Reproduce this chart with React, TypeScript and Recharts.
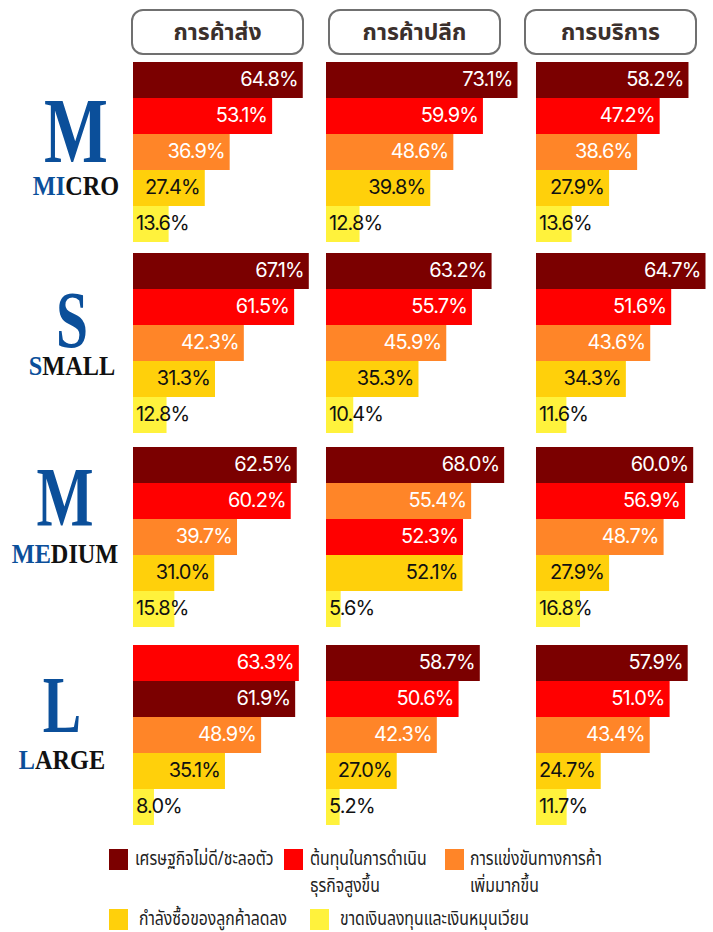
import { BarChart, Bar, XAxis, YAxis, Cell } from 'recharts'

// หมวดปัญหา (เรียงตามสี)
const CATEGORIES = [
  'เศรษฐกิจไม่ดี/ชะลอตัว',
  'ต้นทุนในการดำเนินธุรกิจสูงขึ้น',
  'การแข่งขันทางการค้าเพิ่มมากขึ้น',
  'กำลังซื้อของลูกค้าลดลง',
  'ขาดเงินลงทุนและเงินหมุนเวียน',
]
const COLORS = ['#7b0000', '#ff0000', '#ff8528', '#ffd00b', '#fff23c']
const LABEL_COLORS = ['#ffffff', '#ffffff', '#ffffff', '#111111', '#111111']

const SECTORS = ['การค้าส่ง', 'การค้าปลีก', 'การบริการ']

// ค่าตามลำดับ CATEGORIES: [ส่ง, ปลีก, บริการ]
const microValues = [
  [64.8, 53.1, 36.9, 27.4, 13.6],
  [73.1, 59.9, 48.6, 39.8, 12.8],
  [58.2, 47.2, 38.6, 27.9, 13.6],
]
const smallValues = [
  [67.1, 61.5, 42.3, 31.3, 12.8],
  [63.2, 55.7, 45.9, 35.3, 10.4],
  [64.7, 51.6, 43.6, 34.3, 11.6],
]
const mediumValues = [
  [62.5, 60.2, 39.7, 31.0, 15.8],
  [68.0, 52.3, 55.4, 52.1, 5.6],
  [60.0, 56.9, 48.7, 27.9, 16.8],
]
const largeValues = [
  [61.9, 63.3, 48.9, 35.1, 8.0],
  [58.7, 50.6, 42.3, 27.0, 5.2],
  [57.9, 51.0, 43.4, 24.7, 11.7],
]

const SIZES = [
  { name: 'MICRO', blue: 'MI', big: 'M', values: microValues },
  { name: 'SMALL', blue: 'S', big: 'S', values: smallValues },
  { name: 'MEDIUM', blue: 'ME', big: 'M', values: mediumValues },
  { name: 'LARGE', blue: 'L', big: 'L', values: largeValues },
]

const LEGEND_LINES = [
  ['เศรษฐกิจไม่ดี/ชะลอตัว'],
  ['ต้นทุนในการดำเนิน', 'ธุรกิจสูงขึ้น'],
  ['การแข่งขันทางการค้า', 'เพิ่มมากขึ้น'],
  ['กำลังซื้อของลูกค้าลดลง'],
  ['ขาดเงินลงทุนและเงินหมุนเวียน'],
]

const ROW_TOPS = [62, 253, 447, 645]
const COL_LEFTS = [133, 326, 536]
const CHART_W = 200
const CHART_H = 180
const PX_PER_PCT = 2.62

const numFont = 'Inter, "Noto Sans", sans-serif'
const thaiFont = '"Noto Sans", "Noto Sans Thai", sans-serif'

function MiniChart({ values }: { values: number[] }) {
  const data = values
    .map((v, i) => ({ name: CATEGORIES[i], value: v, cat: i }))
    .sort((a, b) => b.value - a.value)

  const renderLabel = (p: any) => {
    const { x, y, width, height, value, index } = p
    const entry = data[index] ?? data.find((d) => d.value === value)
    const text = `${Number(value).toFixed(1)}%`
    const tw = text.length * 11.8
    const fits = width >= tw + 8
    return (
      <text
        x={fits ? x + width - 5 : x + 3}
        y={y + height / 2 + 1}
        textAnchor={fits ? 'end' : 'start'}
        dominantBaseline="middle"
        fill={LABEL_COLORS[entry?.cat ?? 0]}
        fontSize={20}
        fontFamily={numFont}
        letterSpacing={-0.9}
      >
        {text}
      </text>
    )
  }

  return (
    <BarChart
      width={CHART_W}
      height={CHART_H}
      data={data}
      layout="vertical"
      margin={{ top: 0, right: 0, left: 0, bottom: 0 }}
      barCategoryGap={0}
    >
      <XAxis type="number" hide domain={[0, CHART_W / PX_PER_PCT]} />
      <YAxis type="category" dataKey="name" hide />
      <Bar dataKey="value" isAnimationActive={false} label={renderLabel}>
        {data.map((d) => (
          <Cell key={d.cat} fill={COLORS[d.cat]} />
        ))}
      </Bar>
    </BarChart>
  )
}

// ตำแหน่งตัวอักษรใหญ่ทางซ้าย
const BIG = [
  { cx: 76, base: 162, size: 94, lab: 195 },
  { cx: 72, base: 347, size: 80, lab: 375 },
  { cx: 65, base: 526, size: 84, lab: 563 },
  { cx: 62, base: 732, size: 80, lab: 769 },
]

export default function App() {
  return (
    <div
      style={{
        position: 'absolute',
        left: 0,
        top: 0,
        width: 713,
        height: 932,
        background: '#fff',
        overflow: 'hidden',
      }}
    >
      {/* หัวคอลัมน์ */}
      {SECTORS.map((s, i) => (
        <div
          key={s}
          style={{
            position: 'absolute',
            left: [131, 328, 524][i],
            top: 9,
            width: 173,
            height: 46,
            boxSizing: 'border-box',
            border: '2px solid #707070',
            borderRadius: 12,
            display: 'flex',
            alignItems: 'center',
            justifyContent: 'center',
            fontFamily: thaiFont,
            fontWeight: 700,
            fontSize: 23,
            color: '#3b302c',
          }}
        >
          {s}
        </div>
      ))}

      {/* ชื่อขนาดธุรกิจ */}
      <svg width={130} height={932} style={{ position: 'absolute', left: 0, top: 0 }}>
        {SIZES.map((sz, r) => (
          <g key={sz.name}>
            <g transform={`translate(${BIG[r].cx},0) scale(0.72,1)`}>
              <text
                x={0}
                y={BIG[r].base}
                textAnchor="middle"
                fontFamily='"Liberation Serif", "DejaVu Serif", serif'
                fontWeight={700}
                fontSize={BIG[r].size}
                fill="#0b4f9a"
              >
                {sz.big}
              </text>
            </g>
            <g transform={`translate(${BIG[r].cx},0) scale(0.9,1)`}>
              <text
                x={0}
                y={BIG[r].lab}
                textAnchor="middle"
                fontFamily='"Liberation Serif", "DejaVu Serif", serif'
                fontWeight={700}
                fontSize={27}
                fill="#111"
              >
                <tspan fill="#0b4f9a">{sz.blue}</tspan>
                {sz.name.slice(sz.blue.length)}
              </text>
            </g>
          </g>
        ))}
      </svg>

      {/* กราฟแท่ง */}
      {SIZES.map((sz, r) =>
        sz.values.map((vals, c) => (
          <div
            key={`${r}-${c}`}
            style={{ position: 'absolute', left: COL_LEFTS[c], top: ROW_TOPS[r] }}
          >
            <MiniChart values={vals} />
          </div>
        ))
      )}

      {/* คำอธิบายสัญลักษณ์ */}
      {LEGEND_LINES.map((lines, i) => {
        const pos = [
          { sx: 109, tx: 135, y: 849 },
          { sx: 284, tx: 310, y: 849 },
          { sx: 445, tx: 470, y: 849 },
          { sx: 109, tx: 139, y: 909 },
          { sx: 310, tx: 340, y: 909 },
        ][i]
        return (
          <div key={i}>
            <div
              style={{
                position: 'absolute',
                left: pos.sx,
                top: pos.y,
                width: 19,
                height: 21,
                background: COLORS[i],
              }}
            />
            <div
              style={{
                position: 'absolute',
                left: pos.tx,
                top: pos.y - 4,
                fontFamily: thaiFont,
                fontSize: 19,
                lineHeight: '27px',
                color: '#222',
                whiteSpace: 'nowrap',
                transform: 'scaleX(0.83)',
                transformOrigin: 'left top',
              }}
            >
              {lines.map((l) => (
                <div key={l}>{l}</div>
              ))}
            </div>
          </div>
        )
      })}
    </div>
  )
}
